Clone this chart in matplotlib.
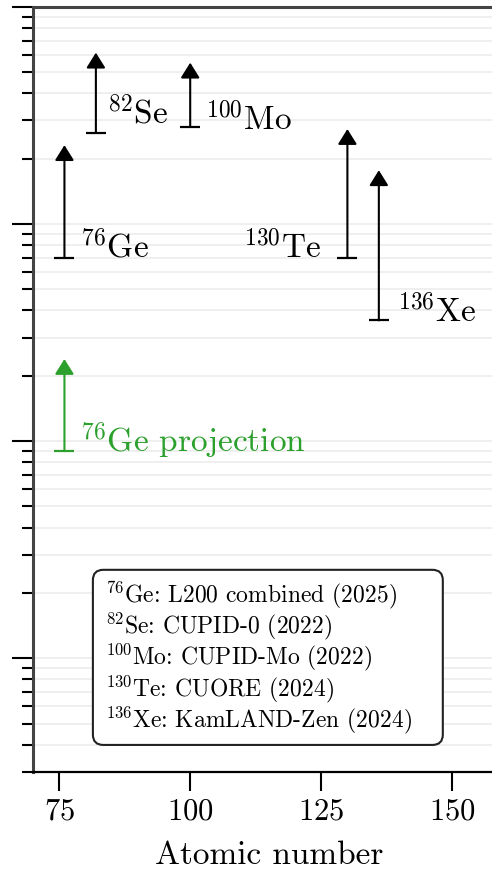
import matplotlib
matplotlib.use('Agg')
import matplotlib.pyplot as plt
from matplotlib.patches import FancyBboxPatch

# fuente tipo LaTeX (Computer Modern incluida en matplotlib)
plt.rcParams['font.family'] = 'serif'
plt.rcParams['font.serif'] = ['cmr10']
plt.rcParams['mathtext.fontset'] = 'cm'
plt.rcParams['axes.unicode_minus'] = False
plt.rcParams['axes.formatter.use_mathtext'] = True

# datos (eje y sin etiquetas, unidades relativas)
nuclei = ['$^{76}$Ge', '$^{82}$Se', '$^{100}$Mo', '$^{130}$Te', '$^{136}$Xe']
atomic_number = [76, 82, 100, 130, 136]
limit_low = [7.0, 26.3, 28.0, 7.0, 3.6]
limit_high = [23.1, 61.6, 55.4, 27.4, 17.7]
experiments = ['L200 combined (2025)', 'CUPID-0 (2022)', 'CUPID-Mo (2022)',
               'CUORE (2024)', 'KamLAND-Zen (2024)']

proj_label = '$^{76}$Ge projection'
proj_z = 76
proj_low = 0.90
proj_high = 2.39

x_ticks = [75, 100, 125, 150]

# desplazamiento de cada etiqueta (puntos) y alineacion
label_offsets = [(11, 0), (8, 7), (11, -2), (-18.5, 0), (13, -1)]
label_ha = ['left', 'left', 'left', 'right', 'left']

fig = plt.figure(figsize=(4.92, 8.73), dpi=100)
ax_w_px = 504.6 - 33
ax_h_px = 771.7 - 7
ax = fig.add_axes([33 / 492, (873 - 771.7) / 873, ax_w_px / 492, ax_h_px / 873])
ax.set_yscale('log')
ax.set_xlim(70, 160)
ax.set_ylim(0.03, 100)


def limit_arrow(z, lo, hi, color):
    ax.annotate('', xy=(z, hi), xytext=(z, lo),
                arrowprops=dict(arrowstyle='-|>,head_length=0.32,head_width=0.2',
                                mutation_scale=29, lw=1.5, color=color,
                                shrinkA=0, shrinkB=0))
    ax.plot(z, lo, marker='_', ms=15, mew=1.6, color=color)


for z, lo, hi, name, off, ha in zip(atomic_number, limit_low, limit_high,
                                    nuclei, label_offsets, label_ha):
    limit_arrow(z, lo, hi, 'black')
    ax.annotate(name, xy=(z, lo), xytext=off, textcoords='offset points',
                ha=ha, va='baseline', fontsize=24)

green = '#2ca02c'
limit_arrow(proj_z, proj_low, proj_high, green)
ax.annotate(proj_label, xy=(proj_z, proj_low), xytext=(11, -1),
            textcoords='offset points', ha='left', va='baseline',
            fontsize=24, color=green)

# cuadro con las referencias
box = FancyBboxPatch((0.127, 0.035), 0.742, 0.229, transform=ax.transAxes,
                     boxstyle='round,pad=0,rounding_size=0.022',
                     mutation_aspect=ax_w_px / ax_h_px,
                     fc='white', ec='#222222', lw=1.5, zorder=3)
ax.add_patch(box)
box_text = '\n'.join(n + ': ' + e for n, e in zip(nuclei, experiments))
ax.text(0.153, 0.149, box_text, transform=ax.transAxes, ha='left', va='center',
        fontsize=17, linespacing=1.0, zorder=4)

ax.set_xticks(x_ticks)
ax.set_xlabel('Atomic number', fontsize=24, labelpad=11)
ax.tick_params(axis='x', labelsize=22, length=14, width=1.5, direction='out', pad=5)
ax.tick_params(axis='y', which='major', length=15, width=1.5, labelleft=False)
ax.tick_params(axis='y', which='minor', length=8, width=1.5, labelleft=False)
ax.grid(axis='y', which='both', color='#ececec', lw=1.2)
ax.set_axisbelow(True)

for s in ['left', 'top']:
    ax.spines[s].set_linewidth(2.2)
    ax.spines[s].set_color('#444444')
ax.spines['bottom'].set_linewidth(1.6)

fig.savefig('out.png', dpi=100)
